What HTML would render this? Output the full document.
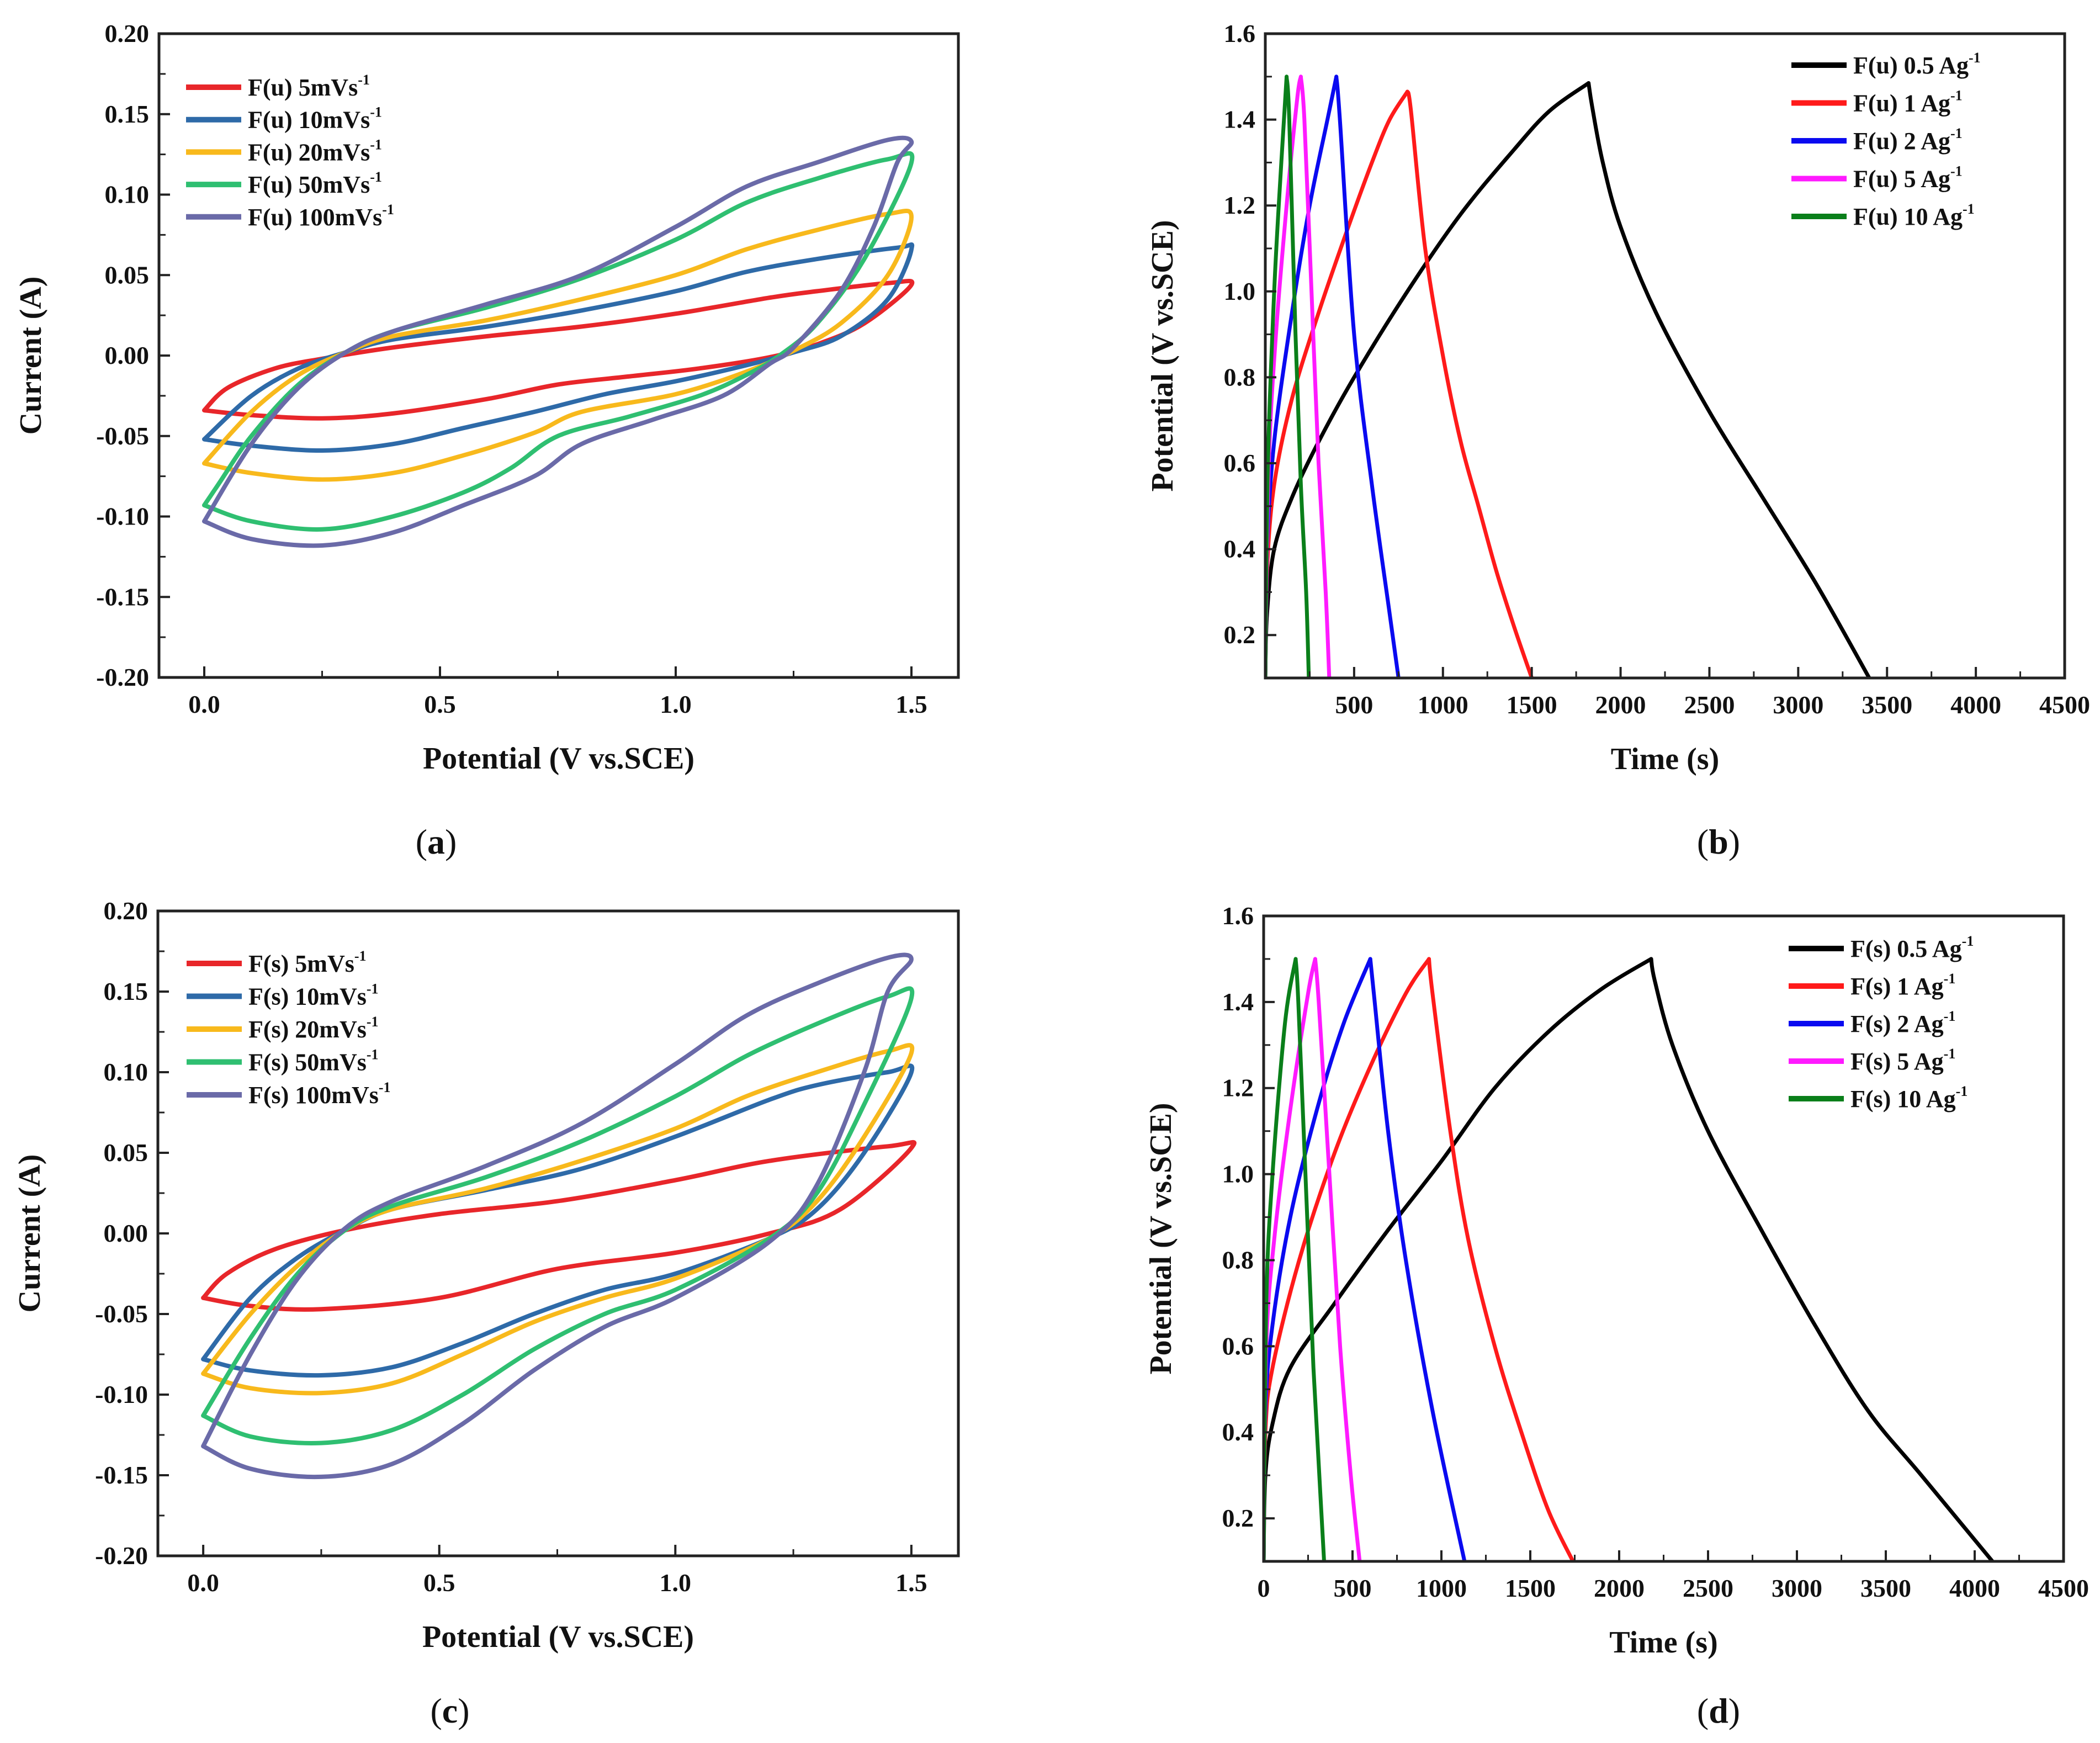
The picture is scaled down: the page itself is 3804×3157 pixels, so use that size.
<!DOCTYPE html>
<html><head><meta charset="utf-8"><style>
html,body{margin:0;padding:0;background:#fff;}
svg{display:block;font-family:"Liberation Serif",serif;}
</style></head><body>
<svg id="fig" width="3804" height="3157" viewBox="0 0 3804 3157" xmlns="http://www.w3.org/2000/svg"></svg>
<script>
// ---------- data: CV panels (V, A) as closed loops ----------
const cvA_labels = ["F(u) 5mVs", "F(u) 10mVs", "F(u) 20mVs", "F(u) 50mVs", "F(u) 100mVs"];
const cvC_labels = ["F(s) 5mVs", "F(s) 10mVs", "F(s) 20mVs", "F(s) 50mVs", "F(s) 100mVs"];
const cvColors = ["#e8262a", "#2e6aa8", "#f8b91c", "#2fbf71", "#6a6aa8"];
const cvA_5 = [[0,-0.034],[0.1,-0.037],[0.25,-0.039],[0.4,-0.036],[0.6,-0.027],[0.75,-0.018],[0.9,-0.013],[1.05,-0.008],[1.2,-0.001],[1.3,0.007],[1.4,0.02],[1.5,0.044],[1.45,0.045],[1.3,0.04],[1.2,0.036],[1.0,0.026],[0.8,0.018],[0.6,0.012],[0.4,0.005],[0.25,-0.002],[0.15,-0.008],[0.05,-0.02],[0,-0.034]];
const cvA_10 = [[0,-0.052],[0.1,-0.056],[0.25,-0.059],[0.4,-0.055],[0.55,-0.045],[0.7,-0.035],[0.85,-0.024],[1.0,-0.016],[1.15,-0.006],[1.25,0.002],[1.35,0.012],[1.45,0.035],[1.5,0.066],[1.47,0.067],[1.3,0.06],[1.15,0.052],[1.0,0.04],[0.8,0.028],[0.6,0.018],[0.4,0.01],[0.3,0.002],[0.2,-0.008],[0.1,-0.025],[0,-0.052]];
const cvA_20 = [[0,-0.067],[0.1,-0.073],[0.25,-0.077],[0.4,-0.073],[0.55,-0.062],[0.7,-0.048],[0.8,-0.035],[1.0,-0.024],[1.15,-0.01],[1.25,0.003],[1.35,0.02],[1.45,0.05],[1.5,0.086],[1.45,0.088],[1.3,0.078],[1.15,0.066],[1.0,0.05],[0.8,0.035],[0.6,0.022],[0.4,0.012],[0.3,0.002],[0.2,-0.012],[0.1,-0.035],[0,-0.067]];
const cvA_50 = [[0,-0.093],[0.1,-0.103],[0.25,-0.108],[0.4,-0.1],[0.55,-0.085],[0.65,-0.07],[0.75,-0.05],[0.9,-0.038],[1.05,-0.025],[1.15,-0.012],[1.22,0],[1.3,0.02],[1.4,0.06],[1.5,0.12],[1.45,0.122],[1.3,0.11],[1.15,0.095],[1.0,0.072],[0.8,0.048],[0.6,0.03],[0.4,0.015],[0.3,0.002],[0.2,-0.018],[0.1,-0.05],[0.03,-0.08],[0,-0.093]];
const cvA_100 = [[0,-0.103],[0.1,-0.114],[0.25,-0.118],[0.4,-0.11],[0.55,-0.093],[0.7,-0.075],[0.8,-0.055],[0.95,-0.04],[1.1,-0.025],[1.2,-0.005],[1.25,0.005],[1.35,0.04],[1.42,0.08],[1.47,0.12],[1.5,0.133],[1.45,0.134],[1.3,0.12],[1.15,0.105],[1.0,0.08],[0.8,0.05],[0.6,0.032],[0.4,0.015],[0.3,0.002],[0.2,-0.02],[0.1,-0.055],[0,-0.103]];
const cvC_5 = [[0,-0.04],[0.1,-0.045],[0.25,-0.047],[0.5,-0.04],[0.75,-0.022],[1.0,-0.012],[1.2,0],[1.35,0.015],[1.5,0.053],[1.45,0.054],[1.2,0.045],[1.0,0.033],[0.75,0.02],[0.5,0.012],[0.3,0.002],[0.15,-0.01],[0.05,-0.025],[0,-0.04]];
const cvC_10 = [[0,-0.078],[0.1,-0.085],[0.25,-0.088],[0.4,-0.083],[0.55,-0.068],[0.7,-0.05],[0.85,-0.035],[1.0,-0.025],[1.2,-0.003],[1.3,0.015],[1.4,0.05],[1.5,0.1],[1.45,0.1],[1.3,0.092],[1.2,0.083],[1.0,0.06],[0.8,0.04],[0.6,0.027],[0.4,0.015],[0.3,0.002],[0.2,-0.015],[0.1,-0.04],[0,-0.078]];
const cvC_20 = [[0,-0.087],[0.1,-0.096],[0.25,-0.099],[0.4,-0.093],[0.55,-0.075],[0.7,-0.055],[0.85,-0.04],[1.0,-0.028],[1.2,-0.003],[1.3,0.02],[1.4,0.06],[1.5,0.112],[1.45,0.113],[1.3,0.1],[1.15,0.085],[1.0,0.065],[0.8,0.045],[0.6,0.028],[0.4,0.015],[0.3,0.002],[0.2,-0.02],[0.1,-0.05],[0,-0.087]];
const cvC_50 = [[0,-0.113],[0.1,-0.126],[0.25,-0.13],[0.4,-0.122],[0.55,-0.1],[0.7,-0.072],[0.85,-0.05],[1.0,-0.035],[1.2,-0.003],[1.3,0.025],[1.4,0.08],[1.5,0.146],[1.45,0.147],[1.3,0.13],[1.15,0.11],[1.0,0.085],[0.8,0.057],[0.6,0.035],[0.4,0.017],[0.3,0.002],[0.2,-0.025],[0.1,-0.065],[0,-0.113]];
const cvC_100 = [[0,-0.132],[0.1,-0.146],[0.25,-0.151],[0.4,-0.143],[0.55,-0.118],[0.7,-0.085],[0.85,-0.058],[1.0,-0.04],[1.2,-0.005],[1.3,0.03],[1.4,0.1],[1.45,0.15],[1.5,0.17],[1.45,0.171],[1.3,0.155],[1.15,0.135],[1.0,0.105],[0.8,0.068],[0.6,0.042],[0.4,0.02],[0.3,0.003],[0.2,-0.028],[0.1,-0.075],[0,-0.132]];
const cvTicksY = ["0.20","0.15","0.10","0.05","0.00","-0.05","-0.10","-0.15","-0.20"];
const cvTicksX = ["0.0","0.5","1.0","1.5"];

// ---------- data: GCD panels (s, V): charge & discharge ----------
const gcdB_labels = ["F(u) 0.5 Ag", "F(u) 1 Ag", "F(u) 2 Ag", "F(u) 5 Ag", "F(u) 10 Ag"];
const gcdD_labels = ["F(s) 0.5 Ag", "F(s) 1 Ag", "F(s) 2 Ag", "F(s) 5 Ag", "F(s) 10 Ag"];
const gcdColors = ["#000000", "#ff1a1a", "#0a0af0", "#ff1aff", "#0a7f1a"];
const gB_05c = [[0,0.1],[10,0.25],[50,0.4],[150,0.52],[300,0.65],[500,0.8],[800,1.0],[1100,1.18],[1400,1.33],[1600,1.42],[1820,1.485]];
const gB_05d = [[1820,1.485],[1840,1.43],[1900,1.3],[2000,1.15],[2200,0.95],[2500,0.72],[2800,0.52],[3100,0.32],[3400,0.1]];
const gB_1c = [[0,0.1],[10,0.35],[50,0.55],[150,0.75],[300,0.95],[450,1.13],[600,1.3],[700,1.4],[800,1.465]];
const gB_1d = [[800,1.465],[820,1.42],[900,1.1],[1000,0.85],[1100,0.65],[1200,0.5],[1300,0.35],[1400,0.22],[1500,0.1]];
const gB_2c = [[0,0.1],[10,0.4],[50,0.65],[150,0.95],[250,1.2],[350,1.4],[400,1.5]];
const gB_2d = [[400,1.5],[420,1.4],[500,0.9],[600,0.55],[700,0.25],[750,0.1]];
const gB_5c = [[0,0.1],[20,0.6],[60,0.9],[120,1.2],[180,1.45],[200,1.5]];
const gB_5d = [[200,1.5],[220,1.4],[260,1.0],[300,0.6],[340,0.3],[360,0.1]];
const gB_10c = [[0,0.1],[15,0.6],[50,1.0],[90,1.3],[120,1.5]];
const gB_10d = [[120,1.5],[135,1.4],[170,0.9],[200,0.55],[230,0.3],[245,0.1]];
const gD_05c = [[0,0.1],[10,0.3],[50,0.42],[150,0.55],[400,0.7],[700,0.87],[1000,1.03],[1300,1.2],[1600,1.33],[1900,1.43],[2180,1.5]];
const gD_05d = [[2180,1.5],[2200,1.45],[2300,1.3],[2500,1.1],[2800,0.87],[3100,0.65],[3400,0.45],[3700,0.3],[4100,0.1]];
const gD_1c = [[0,0.1],[10,0.4],[50,0.55],[200,0.8],[400,1.05],[600,1.25],[800,1.42],[930,1.5]];
const gD_1d = [[930,1.5],[950,1.42],[1050,1.1],[1150,0.85],[1300,0.6],[1450,0.4],[1600,0.22],[1740,0.1]];
const gD_2c = [[0,0.1],[10,0.45],[50,0.65],[150,0.9],[300,1.15],[450,1.35],[600,1.5]];
const gD_2d = [[600,1.5],[620,1.42],[700,1.1],[800,0.8],[950,0.45],[1130,0.1]];
const gD_5c = [[0,0.1],[15,0.6],[60,0.85],[150,1.15],[250,1.42],[290,1.5]];
const gD_5d = [[290,1.5],[310,1.4],[370,1.0],[430,0.6],[490,0.3],[540,0.1]];
const gD_10c = [[0,0.1],[15,0.7],[50,1.0],[120,1.35],[180,1.5]];
const gD_10d = [[180,1.5],[195,1.4],[240,0.95],[280,0.55],[320,0.25],[340,0.1]];
const gcdTicksY = ["0.2","0.4","0.6","0.8","1.0","1.2","1.4","1.6"];
const gcdTicksXb = ["500","1000","1500","2000","2500","3000","3500","4000","4500"];
const gcdTicksXd = ["0","500","1000","1500","2000","2500","3000","3500","4000","4500"];

const NS = "http://www.w3.org/2000/svg";
const svg = document.getElementById("fig");
function mk(tag, attrs, parent) {
  const e = document.createElementNS(NS, tag);
  for (const k in attrs) e.setAttribute(k, attrs[k]);
  (parent || svg).appendChild(e);
  return e;
}
function smooth(pts) {
  if (pts.length < 3) return "M" + pts.map(p => p.join(",")).join("L");
  let d = "M" + pts[0][0].toFixed(1) + "," + pts[0][1].toFixed(1);
  for (let i = 0; i < pts.length - 1; i++) {
    const p0 = pts[Math.max(0, i - 1)], p1 = pts[i], p2 = pts[i + 1], p3 = pts[Math.min(pts.length - 1, i + 2)];
    const c1 = [p1[0] + (p2[0] - p0[0]) / 6, p1[1] + (p2[1] - p0[1]) / 6];
    const c2 = [p2[0] - (p3[0] - p1[0]) / 6, p2[1] - (p3[1] - p1[1]) / 6];
    d += "C" + c1[0].toFixed(1) + "," + c1[1].toFixed(1) + " " + c2[0].toFixed(1) + "," + c2[1].toFixed(1) + " " + p2[0].toFixed(1) + "," + p2[1].toFixed(1);
  }
  return d;
}

function panel(cfg) {
  const g = mk("g", {});
  
  
  const L = cfg.box[0], T = cfg.box[1], R = cfg.box[2], B = cfg.box[3];
  const sx = v => L + (v - cfg.xd[0]) / (cfg.xd[1] - cfg.xd[0]) * (R - L);
  const sy = v => B - (v - cfg.yd[0]) / (cfg.yd[1] - cfg.yd[0]) * (B - T);
  const cid = "clip-" + cfg.name;
  const cp = mk("clipPath", { id: cid }, g);
  mk("rect", { x: L, y: T, width: R - L, height: B - T }, cp);
  const sg = mk("g", { "clip-path": "url(#" + cid + ")" }, g);
  cfg.series.forEach((s, i) => {
    s.parts.forEach(part => {
      const p = mk("path", { d: smooth(part.map(q => [sx(q[0]), sy(q[1])])), fill: "none", stroke: cfg.colors[i], "stroke-width": cfg.lw, "stroke-linejoin": "round", "stroke-linecap": "round" }, sg);
      
      
    });
  });
  const fr = mk("rect", { x: L, y: T, width: R - L, height: B - T, fill: "none", stroke: "#222", "stroke-width": 5 }, g);
  
  
  cfg.yTicks.forEach(t => {
    const v = parseFloat(t), y = sy(v);
    mk("line", { x1: L, x2: L + 20, y1: y, y2: y, stroke: "#222", "stroke-width": 4 }, g);
    const tx = mk("text", { x: L - 18, y: y + 15, "text-anchor": "end", "font-size": 46, "font-weight": "bold", fill: "#111" }, g);
    tx.textContent = t;
    
    
  });
  for (let v = cfg.yd[0]; v <= cfg.yd[1] + 1e-9; v += cfg.yMinor) {
    const y = sy(v);
    if (y > T + 3 && y < B - 3) mk("line", { x1: L, x2: L + 12, y1: y, y2: y, stroke: "#222", "stroke-width": 3 }, g);
  }
  cfg.xTicks.forEach(t => {
    const v = parseFloat(t), x = sx(v);
    mk("line", { x1: x, x2: x, y1: B, y2: B - 20, stroke: "#222", "stroke-width": 4 }, g);
    const tx = mk("text", { x: x, y: B + 64, "text-anchor": "middle", "font-size": 46, "font-weight": "bold", fill: "#111" }, g);
    tx.textContent = t;
    
    
  });
  for (let v = cfg.xMinorStart; v <= cfg.xd[1] + 1e-9; v += cfg.xMinor) {
    const x = sx(v);
    if (x > L + 3 && x < R - 3) mk("line", { x1: x, x2: x, y1: B, y2: B - 12, stroke: "#222", "stroke-width": 3 }, g);
  }
  const xt = mk("text", { x: (L + R) / 2, y: B + 165, "text-anchor": "middle", "font-size": 56, "font-weight": "bold", fill: "#111" }, g);
  xt.textContent = cfg.xTitle;
  
  
  const yx = L - cfg.yTitleOff, yc = (T + B) / 2;
  const yt = mk("text", { x: yx, y: yc, "text-anchor": "middle", "font-size": 56, "font-weight": "bold", fill: "#111", transform: "rotate(-90 " + yx + " " + yc + ")", dy: 19 }, g);
  yt.textContent = cfg.yTitle;
  
  
  cfg.labels.forEach((lab, i) => {
    const y = cfg.leg[1] + i * cfg.leg[2];
    const lg = mk("g", {}, g);
    
    
    mk("line", { x1: cfg.leg[0], x2: cfg.leg[0] + 100, y1: y, y2: y, stroke: cfg.colors[i], "stroke-width": 10 }, lg);
    const t = mk("text", { x: cfg.leg[0] + 112, y: y + 15, "font-size": 44, "font-weight": "bold", fill: "#111" }, lg);
    t.textContent = lab;
    const sup = mk("tspan", { "font-size": 26, dy: -20 }, t);
    sup.textContent = "-1";
  });
  const cap = mk("text", { x: cfg.cap[0], y: cfg.cap[1], "text-anchor": "middle", "font-size": 64, fill: "#111" }, g);
  cap.textContent = "(";
  const cb = mk("tspan", { "font-weight": "bold" }, cap);
  cb.textContent = cfg.capLetter;
  const ce = mk("tspan", {}, cap);
  ce.textContent = ")";
  
  
}

const cvXd = [-82 / 854, 1.5 + 85 / 854];
panel({ name: "panel-a", box: [288, 61, 1736, 1227], xd: cvXd, yd: [-0.2, 0.2],
  series: [{ id: "a-5", parts: [cvA_5] }, { id: "a-10", parts: [cvA_10] }, { id: "a-20", parts: [cvA_20] }, { id: "a-50", parts: [cvA_50] }, { id: "a-100", parts: [cvA_100] }],
  colors: cvColors, lw: 8, yTicks: cvTicksY, yMinor: 0.025, xTicks: cvTicksX, xMinor: 0.25, xMinorStart: 0,
  xTitle: "Potential (V vs.SCE)", yTitle: "Current (A)", yTitleOff: 233, labels: cvA_labels, leg: [337, 158, 58.7], cap: [790, 1546], capLetter: "a" });
panel({ name: "panel-c", box: [286, 1650, 1736, 2818], xd: cvXd, yd: [-0.2, 0.2],
  series: [{ id: "c-5", parts: [cvC_5] }, { id: "c-10", parts: [cvC_10] }, { id: "c-20", parts: [cvC_20] }, { id: "c-50", parts: [cvC_50] }, { id: "c-100", parts: [cvC_100] }],
  colors: cvColors, lw: 8, yTicks: cvTicksY, yMinor: 0.025, xTicks: cvTicksX, xMinor: 0.25, xMinorStart: 0,
  xTitle: "Potential (V vs.SCE)", yTitle: "Current (A)", yTitleOff: 233, labels: cvC_labels, leg: [338, 1745, 59.5], cap: [815, 3120], capLetter: "c" });
panel({ name: "panel-b", box: [2292, 61, 3740, 1228], xd: [0, 4500], yd: [0.1, 1.6],
  series: [{ id: "b-0.5", parts: [gB_05c, gB_05d] }, { id: "b-1", parts: [gB_1c, gB_1d] }, { id: "b-2", parts: [gB_2c, gB_2d] }, { id: "b-5", parts: [gB_5c, gB_5d] }, { id: "b-10", parts: [gB_10c, gB_10d] }],
  colors: gcdColors, lw: 7, yTicks: gcdTicksY, yMinor: 0.1, xTicks: gcdTicksXb, xMinor: 250, xMinorStart: 0,
  xTitle: "Time (s)", yTitle: "Potential (V vs.SCE)", yTitleOff: 187, labels: gcdB_labels, leg: [3245, 118, 68.5], cap: [3113, 1546], capLetter: "b" });
panel({ name: "panel-d", box: [2289, 1659, 3738, 2828], xd: [0, 4500], yd: [0.1, 1.6],
  series: [{ id: "d-0.5", parts: [gD_05c, gD_05d] }, { id: "d-1", parts: [gD_1c, gD_1d] }, { id: "d-2", parts: [gD_2c, gD_2d] }, { id: "d-5", parts: [gD_5c, gD_5d] }, { id: "d-10", parts: [gD_10c, gD_10d] }],
  colors: gcdColors, lw: 7, yTicks: gcdTicksY, yMinor: 0.1, xTicks: gcdTicksXd, xMinor: 250, xMinorStart: 0,
  xTitle: "Time (s)", yTitle: "Potential (V vs.SCE)", yTitleOff: 187, labels: gcdD_labels, leg: [3240, 1718, 68], cap: [3113, 3120], capLetter: "d" });
</script>
</body></html>
